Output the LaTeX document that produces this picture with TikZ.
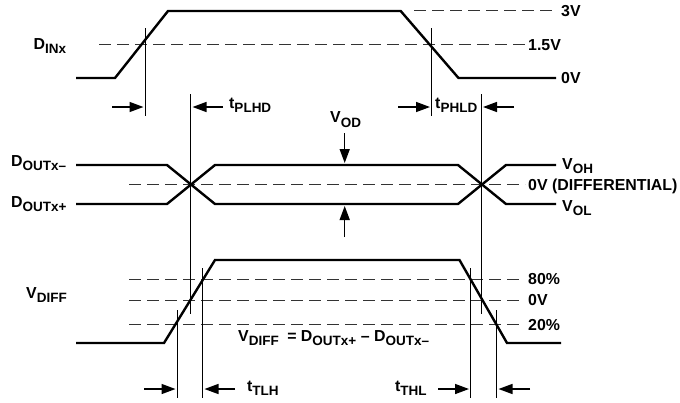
\documentclass[tikz,border=0pt]{standalone}
\usepackage{fontspec}
\setmainfont{Liberation Sans}[BoldFont={Liberation Sans Bold}]
\usetikzlibrary{arrows.meta}
\newcommand{\lowsub}[1]{\raisebox{-4.5pt}{\fontsize{13.5}{13.5}\selectfont #1}}
\tikzset{
  x=1pt,y=-1pt,
  wave/.style={line width=2.4pt,line join=miter,black},
  thinline/.style={line width=1pt,black},
  dashline/.style={line width=0.9pt,dash pattern=on 11.5pt off 6.5pt,black!80},
  arr/.style={line width=1.5pt,-{Triangle[length=14pt,width=10pt]},shorten >=0pt},
  lab/.style={anchor=base west,inner sep=0pt,font=\fontsize{15.9}{15.9}\selectfont\bfseries},
}
\begin{document}
\begin{tikzpicture}
\useasboundingbox (0,0) rectangle (680,402);
% dashed levels
\draw[dashline] (414,10.7) -- (556,10.7);
\draw[dashline] (99,44) -- (525,44);
\draw[dashline] (129,184) -- (525,184);
\draw[dashline] (129,279) -- (523,279);
\draw[dashline] (129,300) -- (523,300);
\draw[dashline] (129,324) -- (523,324);
% waves
\draw[wave] (76,78) -- (115,78) -- (168,11) -- (400.7,11) -- (458.5,78) -- (556,78);
\draw[wave] (76,165) -- (167,165) -- (215,204) -- (458,204) -- (506,165) -- (556,165);
\draw[wave] (76,204) -- (167,204) -- (215,165) -- (458,165) -- (506,204) -- (556,204);
\draw[wave] (76,343) -- (164,343) -- (215,260) -- (459.5,260) -- (507,343) -- (561,343);
% verticals
\draw[thinline] (145.5,28) -- (145.5,116);
\draw[thinline] (431.5,28) -- (431.5,116);
\draw[thinline] (190.8,94) -- (190.8,314);
\draw[thinline] (481,94) -- (481,314);
\draw[thinline] (177.5,310) -- (177.5,398);
\draw[thinline] (202.7,268) -- (202.7,398);
\draw[thinline] (470.7,268) -- (470.7,398);
\draw[thinline] (496.7,310) -- (496.7,398);
% arrows
\draw[arr] (112,107) -- (143.5,107);
\draw[arr] (223,107) -- (192.5,107);
\draw[arr] (398,107) -- (430,107);
\draw[arr] (514,107) -- (483,107);
\draw[arr] (344.7,133) -- (344.7,163);
\draw[arr] (344.7,237) -- (344.7,206);
\draw[arr] (144,389) -- (175.5,389);
\draw[arr] (235,389) -- (204.5,389);
\draw[arr] (438,389) -- (469,389);
\draw[arr] (530,389) -- (498.5,389);
% labels
\node[lab] (dinx) at (33.5,49) {D\lowsub{INx}};
\node[lab] (tplhd) at (229,108) {t\lowsub{PLHD}};
\node[lab] (tphld) at (435,108) {t\lowsub{PHLD}};
\node[lab] (vod) at (330,122.5) {V\lowsub{OD}};
\node[lab] (doutm) at (11,166) {D\lowsub{OUTx–}};
\node[lab] (doutp) at (11,207) {D\lowsub{OUTx+}};
\node[lab] (v3) at (561,16.5) {3V};
\node[lab] (v15) at (528,50) {1.5V};
\node[lab] (v0) at (561,83.5) {0V};
\node[lab] (voh) at (562,169) {V\lowsub{OH}};
\node[lab] (vdf) at (528,190) {0V (DIFFERENTIAL)};
\node[lab] (vol) at (562,211) {V\lowsub{OL}};
\node[lab] (vdiff) at (26,298) {V\lowsub{DIFF}};
\node[lab] (eqn) at (238,341) {V\lowsub{DIFF}\hspace{8.5pt}= D\lowsub{OUTx+} – D\lowsub{OUTx–}};
\node[lab] (p80) at (528,284) {80\%};
\node[lab] (v00) at (528,305) {0V};
\node[lab] (p20) at (528,330) {20\%};
\node[lab] (ttlh) at (247,391) {t\lowsub{TLH}};
\node[lab] (tthl) at (395,391) {t\lowsub{THL}};
\end{tikzpicture}
\end{document}
